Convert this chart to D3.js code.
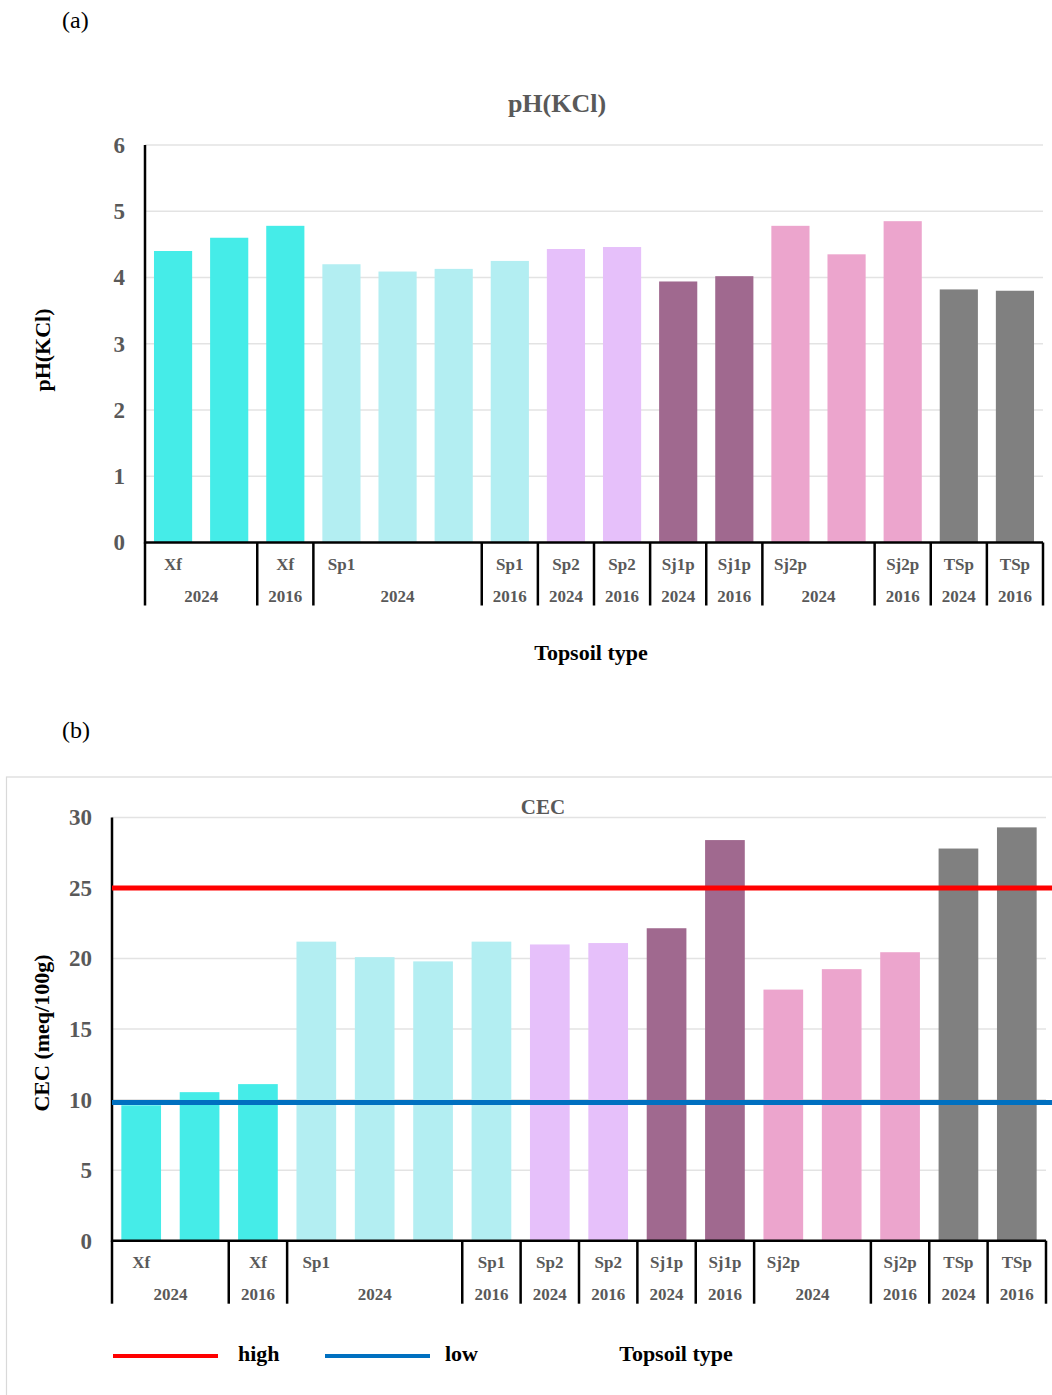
<!DOCTYPE html>
<html>
<head>
<meta charset="utf-8">
<script src="https://cdn.jsdelivr.net/npm/d3@7"></script>
<style>
  body { margin: 0; background: #fff; }
  text { font-family: "Liberation Serif", "Times New Roman", serif; }
</style>
</head>
<body>
<div id="chart"></div>
<script>
// one entry per bar
const categories = ['Xf', 'Xf', 'Xf', 'Sp1', 'Sp1', 'Sp1', 'Sp1', 'Sp2', 'Sp2', 'Sj1p', 'Sj1p', 'Sj2p', 'Sj2p', 'Sj2p', 'TSp', 'TSp'];
const years = ['2024', '2024', '2016', '2024', '2024', '2024', '2016', '2024', '2016', '2024', '2016', '2024', '2024', '2016', '2024', '2016'];
const phValues = [4.40, 4.60, 4.78, 4.20, 4.09, 4.13, 4.25, 4.43, 4.46, 3.94, 4.02, 4.78, 4.35, 4.85, 3.82, 3.80];
const cecValues = [9.6, 10.53, 11.1, 21.2, 20.1, 19.8, 21.2, 21.0, 21.1, 22.15, 28.4, 17.8, 19.25, 20.45, 27.8, 29.3];
const phTicks = [0, 1, 2, 3, 4, 5, 6];
const cecTicks = [0, 5, 10, 15, 20, 25, 30];
const cecHigh = 25;
const cecLow = 9.8;

const soilColors = {
  Xf: '#45ECE8', Sp1: '#B3EEF2', Sp2: '#E6C0FA',
  Sj1p: '#A0698F', Sj2p: '#ECA5CD', TSp: '#808080'
};

// consecutive bars with the same type + year form one group
const groups = [];
categories.forEach((c, i) => {
  const last = groups[groups.length - 1];
  if (last && last.cat === c && last.year === years[i]) last.end = i;
  else groups.push({ cat: c, year: years[i], start: i, end: i });
});

const svg = d3.select('#chart')
  .append('svg')
  .attr('width', 1052)
  .attr('height', 1395);

const drawChart = (g, o) => {
  const ids = categories.map((_, i) => i);
  const x = d3.scaleBand().domain(ids).range([o.left, o.right]).paddingInner(0.32).paddingOuter(0.16);
  const y = d3.scaleLinear().domain([0, d3.max(o.ticks)]).range([o.bottom, o.top]);

  // gridlines
  g.selectAll('.grid')
    .data(o.ticks.filter(t => t > 0))
    .enter()
    .append('line')
    .attr('x1', o.left).attr('x2', o.right)
    .attr('y1', d => y(d)).attr('y2', d => y(d))
    .style('stroke', '#e3e3e3')
    .style('stroke-width', 1.5);

  // Y Axis
  const yAxis = g.append('g')
    .attr('transform', `translate(${o.left},0)`)
    .call(d3.axisLeft(y).tickValues(o.ticks).tickFormat(d3.format('d')).tickSize(0).tickPadding(20));
  yAxis.select('.domain').remove();
  yAxis.selectAll('text')
    .style('font-size', '23px')
    .style('font-weight', 'bold')
    .style('fill', '#595959');

  // Bars
  g.selectAll('.bar')
    .data(o.values)
    .enter()
    .append('rect')
    .attr('x', (_, i) => x(i))
    .attr('y', d => y(d))
    .attr('width', x.bandwidth())
    .attr('height', d => o.bottom - y(d))
    .style('fill', (_, i) => soilColors[categories[i]]);

  // axis lines
  g.append('line')
    .attr('x1', o.left).attr('x2', o.left)
    .attr('y1', y(d3.max(o.ticks))).attr('y2', o.bottom + 1)
    .style('stroke', '#000').style('stroke-width', 2.5);
  g.append('line')
    .attr('x1', o.left).attr('x2', o.right)
    .attr('y1', o.bottom).attr('y2', o.bottom)
    .style('stroke', '#000').style('stroke-width', 2.5);

  // multi-level category axis
  const step = x.step();
  const edges = [o.left].concat(groups.map(gr => o.left + (gr.end + 1) * step));
  g.selectAll('.divider')
    .data(edges)
    .enter()
    .append('line')
    .attr('x1', d => d).attr('x2', d => d)
    .attr('y1', o.bottom).attr('y2', o.bottom + 63)
    .style('stroke', '#000').style('stroke-width', 2.5);

  g.selectAll('.cat')
    .data(groups)
    .enter()
    .append('text')
    .text(d => d.cat)
    .attr('x', d => x(d.start) + x.bandwidth() / 2)
    .attr('y', o.bottom + 27)
    .attr('text-anchor', 'middle')
    .style('font-size', '17px')
    .style('font-weight', 'bold')
    .style('fill', '#595959');

  g.selectAll('.year')
    .data(groups)
    .enter()
    .append('text')
    .text(d => d.year)
    .attr('x', d => o.left + (d.start + d.end + 1) / 2 * step)
    .attr('y', o.bottom + 59)
    .attr('text-anchor', 'middle')
    .style('font-size', '17px')
    .style('font-weight', 'bold')
    .style('fill', '#595959');

  return y;
};

// (a) pH
svg.append('text').text('(a)')
  .attr('x', 62).attr('y', 28)
  .style('font-size', '24px');

svg.append('text').text('pH(KCl)')
  .attr('x', 557).attr('y', 112)
  .attr('text-anchor', 'middle')
  .style('font-size', '26px').style('font-weight', 'bold').style('fill', '#595959');

const gA = svg.append('g');
drawChart(gA, { left: 145, right: 1043, top: 145, bottom: 542.5, values: phValues, ticks: phTicks });

svg.append('text').text('pH(KCl)')
  .attr('transform', 'translate(50,350) rotate(-90)')
  .attr('text-anchor', 'middle')
  .style('font-size', '22px').style('font-weight', 'bold');

svg.append('text').text('Topsoil type')
  .attr('x', 591).attr('y', 660)
  .attr('text-anchor', 'middle')
  .style('font-size', '22px').style('font-weight', 'bold');

// (b) CEC
svg.append('text').text('(b)')
  .attr('x', 62).attr('y', 738)
  .style('font-size', '24px');

svg.append('rect')
  .attr('x', 6.5).attr('y', 777)
  .attr('width', 1060).attr('height', 640)
  .style('fill', 'none').style('stroke', '#d9d9d9').style('stroke-width', 1.2);

svg.append('text').text('CEC')
  .attr('x', 543).attr('y', 814)
  .attr('text-anchor', 'middle')
  .style('font-size', '21px').style('font-weight', 'bold').style('fill', '#595959');

const gB = svg.append('g');
const yB = drawChart(gB, { left: 112, right: 1046, top: 817.5, bottom: 1240.7, values: cecValues, ticks: cecTicks });

const refLines = [
  { name: 'high', value: cecHigh, color: '#FF0000', lx: 113, tx: 238 },
  { name: 'low', value: cecLow, color: '#0070C0', lx: 325, tx: 445 }
];

gB.selectAll('.ref')
  .data(refLines)
  .enter()
  .append('line')
  .attr('x1', 112).attr('x2', 1052)
  .attr('y1', d => yB(d.value)).attr('y2', d => yB(d.value))
  .style('stroke', d => d.color)
  .style('stroke-width', 5);

svg.append('text').text('CEC (meq/100g)')
  .attr('transform', 'translate(49,1033) rotate(-90)')
  .attr('text-anchor', 'middle')
  .style('font-size', '22px').style('font-weight', 'bold');

// legend
const legend = svg.selectAll('.legend')
  .data(refLines)
  .enter()
  .append('g');
legend.append('line')
  .attr('x1', d => d.lx).attr('x2', d => d.lx + 105)
  .attr('y1', 1356).attr('y2', 1356)
  .style('stroke', d => d.color).style('stroke-width', 4);
legend.append('text')
  .text(d => d.name)
  .attr('x', d => d.tx).attr('y', 1361)
  .style('font-size', '22px').style('font-weight', 'bold');

svg.append('text').text('Topsoil type')
  .attr('x', 676).attr('y', 1361)
  .attr('text-anchor', 'middle')
  .style('font-size', '22px').style('font-weight', 'bold');
</script>
</body>
</html>
